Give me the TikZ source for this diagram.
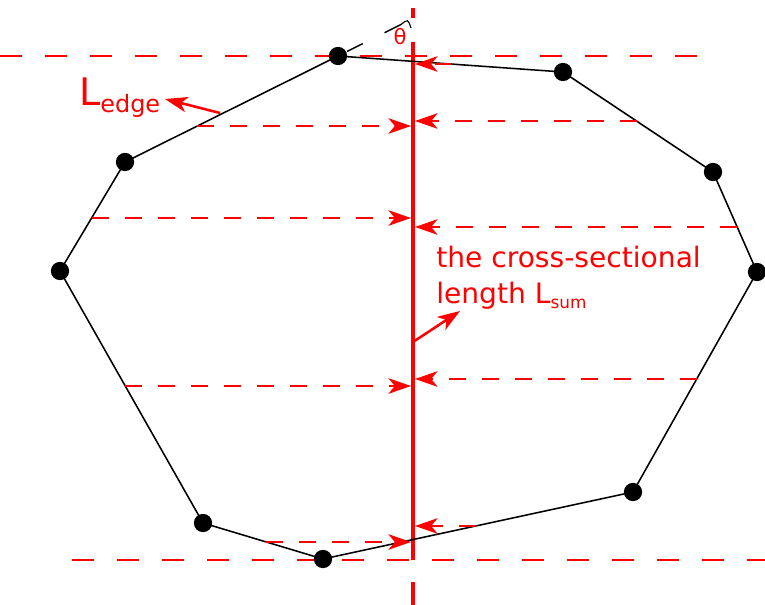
\documentclass[tikz,border=0pt]{standalone}
\usepackage{fontspec}
\setmainfont{DejaVu Sans}
\usetikzlibrary{arrows.meta,calc}
\tikzset{
	>={Stealth[length=16pt,width=11pt,inset=4.5pt]},%
	vertex/.style={%
			circle,%
			fill=black,%
			inner sep=0pt,%
			minimum size=13pt},%
	hull/.style={black, line width=1.1pt},%
	guide/.style={red, line width=1.8pt, dash pattern=on 15.5pt off 16.5pt},%
	proj/.style={->, red, line width=1.8pt, dash pattern=on 12pt off 11.5pt},%
	axisline/.style={red, line width=2.2pt},%
	redlabel/.style={text=red, inner sep=0pt},%
}
\newcommand{\subtxt}[2]{{\fontsize{#1}{#1}\selectfont\raisebox{-0.3em}{#2}}}

\begin{document}
\begin{tikzpicture}[x=0.025cm, y=-0.025cm]
	\useasboundingbox (0,0) rectangle (765,605);

	% polygon vertices
	\coordinate (A) at (338,56);
	\coordinate (B) at (563,72);
	\coordinate (C) at (713,172);
	\coordinate (D) at (757,272);
	\coordinate (E) at (633,492);
	\coordinate (F) at (323,559);
	\coordinate (G) at (203,523);
	\coordinate (H) at (60,271);
	\coordinate (I) at (125,162);

	% axis and guides
	\coordinate (axtop) at (413,8);
	\coordinate (axtopend) at (413,18);
	\coordinate (axsolid) at (413,42);
	\coordinate (axsolidend) at (413,560);
	\coordinate (axbot) at (413,582);
	\coordinate (axbotend) at (413,605);
	\coordinate (gtopL) at (0,56);
	\coordinate (gtopR) at (710,56);
	\coordinate (gbotL) at (72,560);
	\coordinate (gbotR) at (765,560);

	\draw[guide] (gtopL) -- (gtopR);
	\draw[guide] (gbotL) -- (gbotR);
	\draw[axisline] (axtop) -- (axtopend);
	\draw[axisline] (axbot) -- (axbotend);
	\draw[axisline] (axsolid) -- (axsolidend);

	\draw[hull] (A) -- (B) -- (C) -- (D) -- (E) -- (F) -- (G) -- (H) -- (I) -- cycle;

	% projections from the left side
	\coordinate (l1) at (197,126);  \coordinate (l1e) at (411,126);
	\coordinate (l2) at (92,218);   \coordinate (l2e) at (411,218);
	\coordinate (l3) at (125,386);  \coordinate (l3e) at (411,386);
	\coordinate (l4) at (266,542);  \coordinate (l4e) at (411,542);
	% projections from the right side
	\coordinate (r1) at (452,64);   \coordinate (r1e) at (415,64);
	\coordinate (r2) at (637,121);  \coordinate (r2e) at (415,121);
	\coordinate (r3) at (737,227);  \coordinate (r3e) at (415,227);
	\coordinate (r4) at (697,379);  \coordinate (r4e) at (415,379);
	\coordinate (r5) at (476,526);  \coordinate (r5e) at (415,526);

	\foreach \s in {l1,l2,l3,l4,r1,r2,r3,r4,r5}
		\draw[proj] (\s) -- (\s e);

	\foreach \v in {A,B,C,D,E,F,G,H,I}
		\node[vertex] (v\v) at (\v) {};

	% angle mark
	\coordinate (P) at (413,18.5);
	\draw[hull] ($(A)!0.12!(P)$) -- ($(A)!0.33!(P)$);
	\draw[hull] ($(A)!0.62!(P)$) coordinate (ext) -- ($(A)!0.84!(P)$) coordinate (extend);
	\coordinate (arcend) at (411,28);
	\draw[black, line width=0.8pt] (extend) .. controls (408,19) .. (arcend);
	\node[redlabel, font=\fontsize{15}{15}\selectfont] (theta) at (400,37) {θ};

	% labels
	\node[redlabel, anchor=base west, font=\fontsize{27}{27}\selectfont] (ledge) at (79,105)
		{L\subtxt{17}{edge}};
	\coordinate (ledgefrom) at (220,113);
	\coordinate (ledgeto) at (165,99);
	\draw[->, red, line width=1.8pt] (ledgefrom) -- (ledgeto);

	\node[redlabel, anchor=base west, align=left, font=\fontsize{20}{25}\selectfont] (lsum) at (436,303)
		{the cross-sectional\\length L\subtxt{12}{sum}};
	\coordinate (lsumfrom) at (413,342);
	\coordinate (lsumto) at (460,311);
	\draw[->, red, line width=1.8pt] (lsumfrom) -- (lsumto);
\end{tikzpicture}
\end{document}
